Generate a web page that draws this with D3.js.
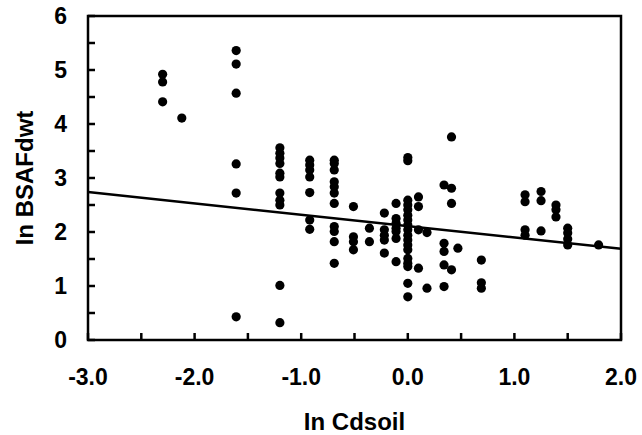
<!DOCTYPE html>
<html>
<head>
<meta charset="utf-8">
<script src="https://cdn.jsdelivr.net/npm/d3@7"></script>
<style>
  body { margin: 0; background: #fff; }
  svg text { font-family: "Liberation Sans", Arial, sans-serif; font-weight: bold; fill: #000; }
</style>
</head>
<body>
<svg id="chart" width="642" height="435"></svg>
<script>
// ln Cdsoil values, one per column of points
const xCols = [-2.30, -2.12, -1.61, -1.20, -0.92, -0.69, -0.51, -0.36, -0.22, -0.11,
  0.00, 0.10, 0.18, 0.34, 0.41, 0.47, 0.69, 1.10, 1.25, 1.39, 1.50, 1.79];

// ln BSAFdwt values for each column above
const yCols = [
  [4.92, 4.78, 4.41],
  [4.11],
  [5.36, 5.11, 4.57, 3.26, 2.72, 0.43],
  [3.56, 3.46, 3.37, 3.27, 3.09, 3.02, 2.72, 2.59, 2.50, 1.01, 0.32],
  [3.33, 3.24, 3.15, 3.02, 2.73, 2.22, 2.05],
  [3.33, 3.27, 3.15, 2.93, 2.84, 2.72, 2.53, 2.10, 2.01, 1.82, 1.42],
  [2.47, 1.91, 1.82, 1.67],
  [2.07, 1.82],
  [2.35, 2.04, 1.94, 1.85, 1.61],
  [2.53, 2.25, 2.16, 2.07, 2.01, 1.88, 1.45],
  [3.38, 3.32, 2.59, 2.50, 2.41, 2.31, 2.22, 2.13, 2.04, 1.94, 1.85, 1.76, 1.67, 1.51, 1.42, 1.36, 1.05, 0.80],
  [2.65, 2.47, 2.04, 1.33],
  [1.99, 0.96],
  [2.87, 1.79, 1.64, 1.39, 0.99],
  [3.76, 2.81, 2.53, 1.30],
  [1.70],
  [1.48, 1.06, 0.96],
  [2.69, 2.56, 2.04, 1.94],
  [2.75, 2.58, 2.02],
  [2.50, 2.41, 2.28],
  [2.07, 1.98, 1.87, 1.76],
  [1.76]
];

// regression line end points
const fitX = [-3.0, 2.0];
const fitY = [2.74, 1.69];

const xTicks = [-3, -2, -1, 0, 1, 2];
const yTicks = [0, 1, 2, 3, 4, 5, 6];

const points = [];
xCols.forEach((xv, i) => yCols[i].forEach(yv => points.push({ x: xv, y: yv })));

const svg = d3.select("#chart");
const plot = { left: 88, right: 621, top: 16, bottom: 340 };

const x = d3.scaleLinear().domain([-3, 2]).range([plot.left, plot.right]);
const y = d3.scaleLinear().domain([0, 6]).range([plot.bottom, plot.top]);

// minor ticks every 0.5, pointing inward
const g = svg.append("g");
g.selectAll(".xt")
  .data(d3.range(-3, 2.01, 0.5))
  .enter().append("line")
    .attr("x1", d => x(d)).attr("x2", d => x(d))
    .attr("y1", plot.bottom).attr("y2", plot.bottom - 7)
    .attr("stroke", "#000").attr("stroke-width", 2.5);
g.selectAll(".yt")
  .data(d3.range(0, 6.01, 0.5))
  .enter().append("line")
    .attr("x1", plot.left).attr("x2", plot.left + 7)
    .attr("y1", d => y(d)).attr("y2", d => y(d))
    .attr("stroke", "#000").attr("stroke-width", 2.5);

// frame
g.append("rect")
  .attr("x", plot.left).attr("y", plot.top)
  .attr("width", plot.right - plot.left).attr("height", plot.bottom - plot.top)
  .attr("fill", "none").attr("stroke", "#000").attr("stroke-width", 2.5);

// tick labels (plain hyphen for negatives, like the original)
g.selectAll(".xl")
  .data(xTicks)
  .enter().append("text")
    .attr("x", d => x(d))
    .attr("y", 385)
    .attr("text-anchor", "middle")
    .style("font-size", "23px")
    .text(d => d.toFixed(1));
g.selectAll(".yl")
  .data(yTicks)
  .enter().append("text")
    .attr("x", 67)
    .attr("y", d => y(d))
    .attr("dy", "0.36em")
    .attr("text-anchor", "end")
    .style("font-size", "23px")
    .text(d => d);

// axis titles
svg.append("text")
  .attr("x", (plot.left + plot.right) / 2)
  .attr("y", 430)
  .attr("text-anchor", "middle")
  .style("font-size", "24px")
  .text("In Cdsoil");
svg.append("text")
  .attr("transform", `translate(33,${(plot.top + plot.bottom) / 2}) rotate(-90)`)
  .attr("text-anchor", "middle")
  .style("font-size", "24px")
  .text("In BSAFdwt");

// regression line
svg.append("line")
  .attr("x1", x(fitX[0])).attr("y1", y(fitY[0]))
  .attr("x2", x(fitX[1])).attr("y2", y(fitY[1]))
  .attr("stroke", "#000").attr("stroke-width", 2.5);

// points
svg.append("g")
  .selectAll("circle")
  .data(points)
  .enter().append("circle")
    .attr("cx", d => x(d.x))
    .attr("cy", d => y(d.y))
    .attr("r", 4.6)
    .attr("fill", "#000");
</script>
</body>
</html>
